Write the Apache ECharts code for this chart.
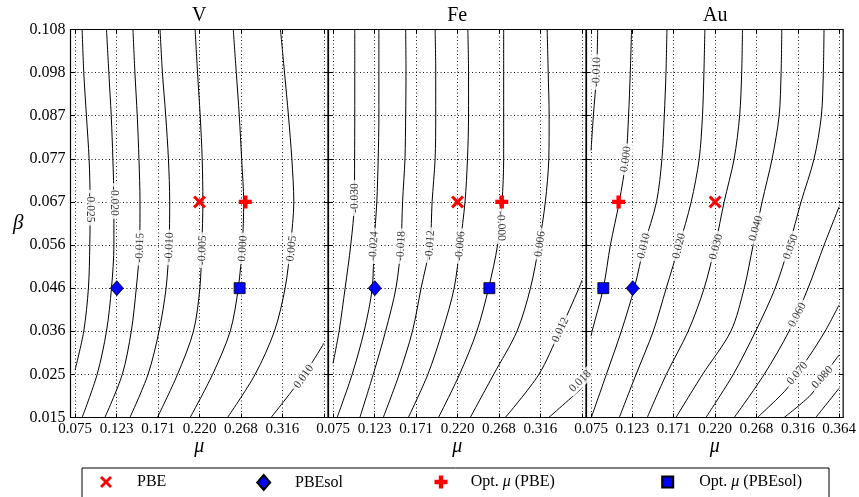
<!DOCTYPE html>
<html><head><meta charset="utf-8">
<script src="https://cdn.jsdelivr.net/npm/echarts@6/dist/echarts.min.js"></script>
<style>html,body{margin:0;padding:0;background:#fff}#c{width:859px;height:497px}</style>
</head><body><div id="c"></div>
<script>
// ---------- axes ----------
const panelTitles = ['V', 'Fe', 'Au'];
const xTicks = [0.075, 0.123167, 0.171333, 0.2195, 0.267667, 0.315833, 0.364];
const xTickLabels = ['0.075', '0.123', '0.171', '0.220', '0.268', '0.316', '0.364'];
const yTicks = [0.015, 0.025333, 0.035667, 0.046, 0.056333, 0.066667, 0.077, 0.087333, 0.097667, 0.108];
const yTickLabels = ['0.015', '0.025', '0.036', '0.046', '0.056', '0.067', '0.077', '0.087', '0.098', '0.108'];
const muRange = [0.0697, 0.3687];
const betaRange = [0.015, 0.108];

// ---------- V contours [mu, beta] ----------
const vContours = [
  [[0.0832,0.108],[0.0851,0.0977],[0.0882,0.0873],[0.0913,0.077],[0.0925,0.0667],[0.0921,0.0563],[0.0905,0.046],[0.0851,0.0357],[0.075,0.0264]],
  [[0.1115,0.108],[0.1142,0.0977],[0.1170,0.0873],[0.1189,0.077],[0.1201,0.0667],[0.1201,0.0563],[0.1173,0.046],[0.1115,0.0357],[0.1006,0.0253],[0.0832,0.015]],
  [[0.1422,0.108],[0.1445,0.0977],[0.1472,0.0873],[0.1492,0.077],[0.1504,0.0667],[0.1500,0.0563],[0.1461,0.046],[0.1403,0.0357],[0.1298,0.0253],[0.1096,0.015]],
  [[0.1737,0.108],[0.1764,0.0977],[0.1803,0.0873],[0.1834,0.077],[0.1849,0.0667],[0.1841,0.0563],[0.1807,0.046],[0.1725,0.0357],[0.1597,0.0253],[0.1387,0.015]],
  [[0.2144,0.108],[0.2172,0.0977],[0.2203,0.0873],[0.2226,0.077],[0.2234,0.0667],[0.2222,0.0563],[0.2199,0.046],[0.2125,0.0357],[0.1939,0.0253],[0.1706,0.015]],
  [[0.2587,0.108],[0.2622,0.0977],[0.2657,0.0873],[0.2684,0.077],[0.2708,0.0667],[0.2692,0.0563],[0.2645,0.046],[0.2552,0.0357],[0.2346,0.0253],[0.2086,0.015]],
  [[0.3135,0.108],[0.3182,0.0977],[0.3228,0.0873],[0.3267,0.077],[0.3290,0.0667],[0.3252,0.0563],[0.3189,0.046],[0.3065,0.0357],[0.2840,0.0253],[0.2521,0.015]],
  [[0.3026,0.015],[0.3400,0.0250],[0.364,0.0328]]
];
const vLabels = [['-0.025',0.0922,0.0653],['-0.020',0.1200,0.0669],['-0.015',0.1502,0.0557],['-0.010',0.1845,0.0558],
  ['-0.005',0.2229,0.0551],['0.000',0.2698,0.0555],['0.005',0.3265,0.0555],['0.010',0.3406,0.0248]];
const vLabelAngles = [-90, -90, 88, 88, 88, 86, 84, 55];

// ---------- Fe contours ----------
const feContours = [
  [[0.1002,0.108],[0.1002,0.0977],[0.1002,0.0873],[0.1000,0.077],[0.0998,0.0667],[0.0955,0.0563],[0.0890,0.046],[0.0820,0.0357],[0.075,0.0280]],
  [[0.1282,0.108],[0.1282,0.0977],[0.1282,0.0873],[0.1274,0.077],[0.1258,0.0667],[0.1225,0.0563],[0.1205,0.046],[0.1111,0.0357],[0.0971,0.0253],[0.0797,0.015]],
  [[0.1593,0.108],[0.1597,0.0977],[0.1593,0.0873],[0.1585,0.077],[0.1557,0.0667],[0.1538,0.0563],[0.1480,0.046],[0.1360,0.0357],[0.1216,0.0253],[0.1061,0.015]],
  [[0.1935,0.108],[0.1942,0.0977],[0.1942,0.0873],[0.1935,0.077],[0.1900,0.0667],[0.1875,0.0563],[0.1772,0.046],[0.1672,0.0357],[0.1517,0.0253],[0.1333,0.015]],
  [[0.2315,0.108],[0.2323,0.0977],[0.2323,0.0873],[0.2311,0.077],[0.2282,0.0667],[0.2224,0.0563],[0.2156,0.046],[0.2020,0.0357],[0.1850,0.0253],[0.1624,0.015]],
  [[0.2731,0.108],[0.2731,0.0977],[0.2731,0.0873],[0.2731,0.077],[0.2712,0.0667],[0.2660,0.0563],[0.2556,0.046],[0.2420,0.0357],[0.2218,0.0253],[0.1974,0.015]],
  [[0.3236,0.108],[0.3248,0.0977],[0.3259,0.0873],[0.3255,0.077],[0.3215,0.0667],[0.3140,0.0563],[0.3042,0.046],[0.2886,0.0357],[0.2614,0.0253],[0.2343,0.015]],
  [[0.2750,0.015],[0.3139,0.0253],[0.3382,0.0357],[0.3605,0.046],[0.364,0.0479]],
  [[0.3255,0.015],[0.364,0.0220]]
];
const feLabels = [['-0.030',0.1002,0.0676],['-0.024',0.1222,0.0561],['-0.018',0.1540,0.0561],['-0.012',0.1877,0.0563],
  ['-0.006',0.2226,0.0561],['-0.000',0.2700,0.0609],['0.006',0.3155,0.0566],['0.012',0.3390,0.0360],['0.018',0.3620,0.0237]];
const feLabelAngles = [90, 86, 87, 86, 85, -88, 83, 65, 45];

// ---------- Au contours ----------
const auContours = [
  [[0.0827,0.108],[0.0815,0.0977],[0.0777,0.0873],[0.075,0.0790]],
  [[0.1222,0.108],[0.1207,0.0977],[0.1187,0.0873],[0.1157,0.077],[0.1079,0.0667],[0.0975,0.0563],[0.0893,0.046],[0.0762,0.0357],[0.075,0.0345]],
  [[0.1634,0.108],[0.1623,0.0977],[0.1603,0.0873],[0.1576,0.077],[0.1513,0.0667],[0.1370,0.0563],[0.1254,0.046],[0.1103,0.0357],[0.0928,0.0253],[0.0753,0.015]],
  [[0.2076,0.108],[0.2065,0.0977],[0.2048,0.0873],[0.2010,0.077],[0.1917,0.0667],[0.1777,0.0563],[0.1626,0.046],[0.1475,0.0357],[0.1274,0.0253],[0.1079,0.015]],
  [[0.2514,0.108],[0.2505,0.0977],[0.2481,0.0873],[0.2417,0.077],[0.2301,0.0667],[0.2196,0.0563],[0.2068,0.046],[0.1882,0.0357],[0.1626,0.0253],[0.1405,0.015]],
  [[0.2972,0.108],[0.2964,0.0977],[0.2941,0.0873],[0.2859,0.077],[0.2743,0.0667],[0.2638,0.0563],[0.2534,0.046],[0.2379,0.0357],[0.2048,0.0253],[0.1739,0.015]],
  [[0.3464,0.108],[0.3456,0.0977],[0.3433,0.0873],[0.3348,0.077],[0.3197,0.0667],[0.3058,0.0563],[0.2895,0.046],[0.2668,0.0357],[0.2406,0.0253],[0.2088,0.015]],
  [[0.364,0.0655],[0.3464,0.0563],[0.3278,0.046],[0.3057,0.0357],[0.2766,0.0253],[0.2418,0.015]],
  [[0.364,0.0420],[0.3477,0.0357],[0.3289,0.0296],[0.3139,0.0253],[0.3019,0.0216],[0.2688,0.015]],
  [[0.364,0.0300],[0.3445,0.0246],[0.3309,0.0204],[0.2999,0.015]],
  [[0.364,0.0220],[0.3368,0.015]]
];
const auLabels = [['-0.010',0.0815,0.0978],['0.000',0.1155,0.0769],['0.010',0.1365,0.0561],['0.020',0.1777,0.0561],
  ['0.030',0.2208,0.0559],['0.040',0.2670,0.0603],['0.050',0.3077,0.0559],['0.060',0.3154,0.0396],
  ['0.070',0.3154,0.0256],['0.080',0.3445,0.0246]];
const auLabelAngles = [88, 82, 76, 76, 74, 74, 70, 62, 50, 48];

// ---------- reference functionals (one point per panel: V, Fe, Au) ----------
const pbePoints = [[0.2195,0.066667],[0.2195,0.066667],[0.2195,0.066667]];
const pbesolPoints = [[0.1235,0.046],[0.1235,0.046],[0.1235,0.046]];
const optPbePoints = [[0.2727,0.066667],[0.2709,0.066667],[0.1071,0.066667]];
const optPbesolPoints = [[0.2661,0.046],[0.2565,0.046],[0.0893,0.046]];

// ---------- build ----------
const SERIF = "'Liberation Serif', 'DejaVu Serif', serif";
const xPath = 'path://M2,0 L6,4 L10,0 L12,2 L8,6 L12,10 L10,12 L6,8 L2,12 L0,10 L4,6 L0,2 Z';
const plusPath = 'path://M4,0 L8,0 L8,4 L12,4 L12,8 L8,8 L8,12 L4,12 L4,8 L0,8 L0,4 L4,4 Z';

const contours = [vContours, feContours, auContours];
const labels = [vLabels, feLabels, auLabels];
const angles = [vLabelAngles, feLabelAngles, auLabelAngles];

const GL = [70.5, 328.5, 586.5], GW = 257.5, GT = 29.5, GH = 388;

const grid = [], xAxis = [], yAxis = [], series = [];
function idx(arr, v) { let b = 0; arr.forEach((t, i) => { if (Math.abs(t - v) < Math.abs(arr[b] - v)) b = i; }); return b; }
const tickStyle = { color: '#000', width: 1 };
const gridLine = { show: true, lineStyle: { color: '#000', width: 0.9, type: [1, 2.5] } };

for (let p = 0; p < 3; p++) {
  grid.push({ left: GL[p], top: GT, width: GW, height: GH, show: true, borderColor: '#000', borderWidth: 1.2, backgroundColor: 'transparent' });
  xAxis.push({
    type: 'value', gridIndex: p, min: muRange[0], max: muRange[1], position: 'bottom',
    axisLine: { show: false },
    axisTick: { show: true, inside: true, length: 4, customValues: xTicks, lineStyle: tickStyle },
    axisLabel: { show: true, customValues: xTicks, margin: 4, color: '#000', fontFamily: SERIF, fontSize: 15,
      formatter: v => { const i = idx(xTicks, v); return (p < 2 && i === 6) ? '' : xTickLabels[i]; } },
    splitLine: gridLine,
    name: 'μ', nameLocation: 'middle', nameGap: 19, nameMoveOverlap: false,
    nameTextStyle: { fontFamily: SERIF, fontStyle: 'italic', fontSize: 20, color: '#000' }
  });
  yAxis.push({
    type: 'value', gridIndex: p, min: betaRange[0], max: betaRange[1], position: 'left',
    axisLine: { show: false },
    axisTick: { show: true, inside: true, length: 4, customValues: yTicks, lineStyle: tickStyle },
    axisLabel: { show: p === 0, customValues: yTicks, margin: 5, color: '#000', fontFamily: SERIF, fontSize: 16,
      formatter: v => yTickLabels[idx(yTicks, v)] },
    splitLine: gridLine,
    name: p === 0 ? 'β' : '', nameLocation: 'middle', nameGap: 47, nameRotate: 0,
    nameTextStyle: { fontFamily: SERIF, fontStyle: 'italic', fontSize: 21, color: '#000' }
  });
}
for (let p = 0; p < 3; p++) {
  xAxis.push({
    type: 'value', gridIndex: p, min: muRange[0], max: muRange[1], position: 'top',
    axisLine: { show: false }, axisLabel: { show: false }, splitLine: { show: false },
    axisTick: { show: true, inside: true, length: 4, customValues: xTicks, lineStyle: tickStyle }
  });
  yAxis.push({
    type: 'value', gridIndex: p, min: betaRange[0], max: betaRange[1], position: 'right',
    axisLine: { show: false }, axisLabel: { show: false }, splitLine: { show: false },
    axisTick: { show: true, inside: true, length: 4, customValues: yTicks, lineStyle: tickStyle }
  });
}

for (let p = 0; p < 3; p++) {
  contours[p].forEach(c => series.push({
    type: 'line', xAxisIndex: p, yAxisIndex: p, data: c, symbol: 'none', smooth: 0.3,
    lineStyle: { color: '#000', width: 1 }, silent: true, z: 2, animation: false
  }));
  series.push({
    type: 'scatter', xAxisIndex: p, yAxisIndex: p, symbolSize: 1, silent: true, z: 3, animation: false,
    itemStyle: { color: 'rgba(0,0,0,0)' },
    data: labels[p].map((l, i) => ({ value: [l[1], l[2]], label: { formatter: l[0], rotate: angles[p][i] } })),
    label: { show: true, position: 'inside', color: '#000', fontFamily: SERIF, fontSize: 11.5,
      backgroundColor: '#fff', padding: [0, 3] }
  });
  const mk = (name, pts, symbol, size, color, border) => series.push({
    type: 'scatter', name, xAxisIndex: p, yAxisIndex: p, data: [pts[p]], symbol, symbolSize: size,
    itemStyle: { color, borderColor: border ? '#000' : color, borderWidth: border ? 0.8 : 0, opacity: 1 },
    z: 5, animation: false, silent: true
  });
  mk('PBE', pbePoints, xPath, 13, '#ff0000', false);
  mk('PBEsol', pbesolPoints, 'diamond', [13, 15], '#0000ff', true);
  mk('Opt. μ (PBE)', optPbePoints, plusPath, 13, '#ff0000', false);
  mk('Opt. μ (PBEsol)', optPbesolPoints, 'rect', 11, '#0000ff', true);
}

const legendDefs = [
  { name: 'PBE', icon: xPath, left: 100, w: 12, h: 12, pad: 20 },
  { name: 'PBEsol', icon: 'diamond', left: 256.2, w: 13, h: 15, pad: 19.8 },
  { name: 'Opt. μ (PBE)', icon: plusPath, left: 434.5, w: 13, h: 13, pad: 18.2 },
  { name: 'Opt. μ (PBEsol)', icon: 'rect', left: 661.2, w: 11, h: 11, pad: 21.1 }
];
const legend = legendDefs.map(d => ({
  data: [d.name], icon: d.icon, left: d.left, top: 474, padding: 0, itemWidth: d.w, itemHeight: d.h,
  selectedMode: false,
  formatter: n => n.replace('μ', '{m|μ}'),
  textStyle: { fontFamily: SERIF, fontSize: 16, color: '#000', padding: [0, 0, 0, d.pad],
    rich: { m: { fontFamily: SERIF, fontStyle: 'italic', fontSize: 16, color: '#000' } } }
}));

const graphic = [
  { type: 'rect', shape: { x: 82, y: 468, width: 747, height: 40 }, style: { fill: '#fff', stroke: '#000', lineWidth: 1 }, z: -1, silent: true }
].concat(panelTitles.map((t, p) => ({
  type: 'text', x: GL[p] + GW / 2, y: 16, silent: true,
  style: { text: t, fill: '#000', font: "20px " + SERIF, textAlign: 'center', textVerticalAlign: 'middle' }
})));

const chart = echarts.init(document.getElementById('c'), null, { renderer: 'canvas' });
chart.setOption({ animation: false, backgroundColor: '#fff', grid, xAxis, yAxis, series, legend, graphic });
</script></body></html>
